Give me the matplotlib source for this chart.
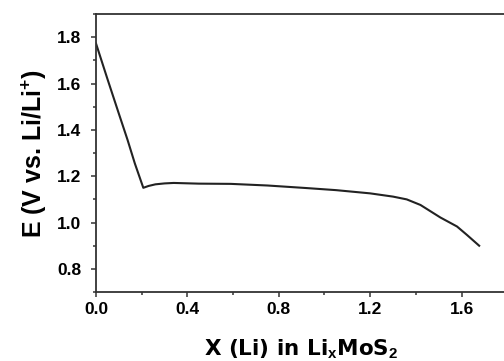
import numpy as np
import matplotlib
matplotlib.use("Agg")
import matplotlib.pyplot as plt
from matplotlib.ticker import MultipleLocator

plt.rcParams['font.family'] = 'Liberation Sans'
plt.rcParams['font.weight'] = 'bold'
plt.rcParams['mathtext.fontset'] = 'custom'
plt.rcParams['mathtext.rm'] = 'Liberation Sans:bold'
plt.rcParams['mathtext.default'] = 'rm'

# discharge curve of Li/MoS2 cell
x_li = [0.0, 0.05, 0.10, 0.138, 0.17, 0.207, 0.23, 0.26, 0.30, 0.34, 0.45,
        0.59, 0.75, 0.92, 1.05, 1.20, 1.30, 1.36, 1.42, 1.507, 1.58, 1.623, 1.677]
e_v = [1.773, 1.62, 1.47, 1.357, 1.255, 1.150, 1.158, 1.165, 1.169, 1.171, 1.168,
       1.167, 1.160, 1.149, 1.140, 1.126, 1.112, 1.100, 1.076, 1.022, 0.983, 0.947, 0.900]

xticks = [0.0, 0.4, 0.8, 1.2, 1.6]
yticks = [0.8, 1.0, 1.2, 1.4, 1.6, 1.8]

fig = plt.figure(figsize=(5.04, 3.61), dpi=100)
ax = fig.add_axes([0.1905, 0.191, 0.816, 0.770])

ax.plot(x_li, e_v, color='#222222', lw=1.5)

ax.set_xlim(0, 1.8)
ax.set_ylim(0.7, 1.9)
ax.set_xticks(xticks)
ax.set_yticks(yticks)
ax.set_xticklabels([f'{v:.1f}' for v in xticks])
ax.set_yticklabels([f'{v:.1f}' for v in yticks])
ax.xaxis.set_minor_locator(MultipleLocator(0.2))
ax.yaxis.set_minor_locator(MultipleLocator(0.1))

ax.tick_params(which='both', direction='out', width=1.1, color='#333333', labelsize=12.5)
ax.tick_params(which='major', length=3.5)
ax.tick_params(which='minor', length=2.5)
ax.tick_params(axis='x', pad=4)
ax.tick_params(axis='y', pad=7)

ax.spines['right'].set_visible(False)
for s in ['left', 'bottom', 'top']:
    ax.spines[s].set_linewidth(1.3)
    ax.spines[s].set_color('#333333')

ax.set_xlabel(r'X (Li) in Li$_{x}$MoS$_{2}$', fontsize=15.5, fontweight='bold',
              family='DejaVu Sans', labelpad=14)
ax.set_ylabel(r'E (V vs. Li/Li$^{+}$)', fontsize=18, fontweight='bold', labelpad=6)

fig.savefig('out.png', dpi=100)
